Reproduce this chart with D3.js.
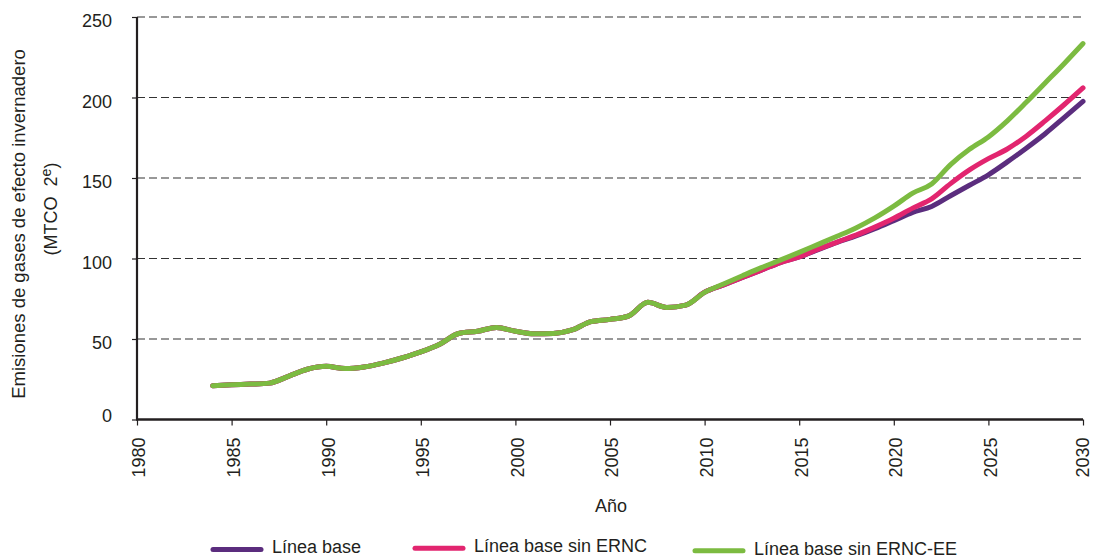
<!DOCTYPE html>
<html>
<head>
<meta charset="utf-8">
<script src="https://cdn.jsdelivr.net/npm/d3@7"></script>
<style>
  html, body { margin: 0; padding: 0; background: #fff; }
  svg { display: block; font-family: "Liberation Sans", Arial, Helvetica, sans-serif; }
</style>
</head>
<body>
<svg id="chart" width="1093" height="558"></svg>
<script>
// ---- data ----
const histYears = [1984,1985,1986,1987,1988,1989,1990,1991,1992,1993,1994,1995,1996,1997,1998,1999,2000,2001,2002,2003,2004,2005,2006,2007,2008,2009,2010];
const histValues = [21.0,21.6,22.0,22.6,26.8,31.2,33.0,31.6,32.6,35.0,38.2,42.0,46.8,53.4,54.8,57.2,54.8,53.2,53.4,55.6,60.8,62.2,64.4,72.8,69.6,71.0,79.0];
const projYears = [2011,2012,2013,2014,2015,2016,2017,2018,2019,2020,2021,2022,2023,2024,2025,2026,2027,2028,2029,2030];
const lineaBase = [83.6,88.2,92.8,97.5,101.0,105.5,110.0,114.0,118.5,123.5,128.6,132.3,139.0,145.5,152.0,160.0,168.5,177.5,187.5,197.6];
const sinERNC = [83.6,88.2,92.8,97.5,101.0,105.8,110.2,114.5,119.5,125.0,131.3,137.0,146.5,155.0,162.0,168.0,176.0,185.5,195.5,206.0];
const sinERNCEE = [84.2,89.3,94.3,99.0,103.8,108.8,113.8,119.0,125.2,132.5,140.6,146.3,158.3,167.8,175.5,185.5,197.0,209.0,221.0,233.5];
const seriesNames = ["Línea base", "Línea base sin ERNC", "Línea base sin ERNC-EE"];
const xTicks = [1980,1985,1990,1995,2000,2005,2010,2015,2020,2025,2030];
const yTicks = [0,50,100,150,200,250];

// ---- styles ----
const colors = ["#5b2d7e", "#e2256f", "#7cbb41"];

const svg = d3.select("#chart");
const x = d3.scaleLinear().domain([1980, 2030]).range([137, 1083]);
const y = d3.scaleLinear().domain([0, 250]).range([419.5, 17]);

// gridlines
svg.append("g").selectAll("line").data(yTicks.filter(d => d > 0)).join("line")
  .attr("x1", x(1980)).attr("x2", x(2030))
  .attr("y1", d => y(d)).attr("y2", d => y(d))
  .attr("stroke", "#333").attr("stroke-width", 1.2)
  .attr("stroke-dasharray", "8,4");

// y axis
const yAxis = svg.append("g").attr("transform", `translate(${x(1980)},0)`)
  .call(d3.axisLeft(y).tickValues(yTicks).tickSize(5).tickPadding(20).tickFormat(d3.format("d")));
yAxis.select(".domain").attr("stroke", "#231f20").attr("stroke-width", 2.2).attr("d", `M0,${y(250)}V${y(0)}`);
yAxis.selectAll(".tick line").attr("stroke", "#231f20").attr("stroke-width", 1.2);
yAxis.selectAll(".tick text").attr("font-size", 18).attr("fill", "#231f20")
  .attr("font-family", "Liberation Sans, Arial, sans-serif")
  .attr("dy", d => d === 0 ? "0.1em" : "0.55em");

// x axis
const xAxis = svg.append("g").attr("transform", `translate(0,${y(0)})`)
  .call(d3.axisBottom(x).tickValues(xTicks).tickSize(6).tickFormat(d3.format("d")));
xAxis.select(".domain").attr("stroke", "#231f20").attr("stroke-width", 2.6).attr("d", `M${x(1980) - 1},0H${x(2030)}`);
xAxis.selectAll(".tick line").attr("stroke", "#231f20").attr("stroke-width", 1.2);
xAxis.selectAll(".tick text")
  .attr("font-size", 18).attr("fill", "#231f20")
  .attr("font-family", "Liberation Sans, Arial, sans-serif")
  .attr("text-anchor", "end")
  .attr("transform", d => `translate(${d === 2030 ? -0.5 : 1.5},18) rotate(-90)`)
  .attr("x", 0).attr("y", 0).attr("dy", "0.35em");

// axis titles
svg.append("text").attr("x", 611).attr("y", 512).attr("text-anchor", "middle")
  .attr("font-size", 18).attr("fill", "#231f20").text("Año");

svg.append("text").attr("transform", "translate(25,224) rotate(-90)")
  .attr("text-anchor", "middle").attr("font-size", 18.5).attr("fill", "#231f20")
  .text("Emisiones de gases de efecto invernadero");
const yt2 = svg.append("text").attr("transform", "translate(57,209) rotate(-90)")
  .attr("text-anchor", "middle").attr("font-size", 18).attr("fill", "#231f20");
yt2.append("tspan").text("(MTCO\u00a0\u00a02");
yt2.append("tspan").attr("font-size", 14).attr("dy", "-0.45em").text("e");
yt2.append("tspan").attr("dy", "0.35em").text(")");

// lines
const allYears = histYears.concat(projYears);
const series = [lineaBase, sinERNC, sinERNCEE].map(p => histValues.concat(p));
const line = d3.line()
  .x((d, i) => x(allYears[i]))
  .y(d => y(d))
  .curve(d3.curveMonotoneX);

svg.append("g").selectAll("path").data(series).join("path")
  .attr("d", d => line(d))
  .attr("fill", "none")
  .attr("stroke", (d, i) => colors[i])
  .attr("stroke-width", 5)
  .attr("stroke-linecap", "round")
  .attr("stroke-linejoin", "round");

// legend
const legendX = [213, 415, 695];
const legendLineY = [549.5, 548.3, 550.8];
const legendTextY = [553.3, 552.1, 554.5];
const lg = svg.append("g").selectAll("g").data(seriesNames).join("g");
lg.append("line")
  .attr("x1", (d, i) => legendX[i]).attr("x2", (d, i) => legendX[i] + 48)
  .attr("y1", (d, i) => legendLineY[i]).attr("y2", (d, i) => legendLineY[i])
  .attr("stroke", (d, i) => colors[i]).attr("stroke-width", 5)
  .attr("stroke-linecap", "round");
lg.append("text")
  .attr("x", (d, i) => legendX[i] + 59).attr("y", (d, i) => legendTextY[i])
  .attr("font-size", 18).attr("fill", "#231f20")
  .text(d => d);
</script>
</body>
</html>
